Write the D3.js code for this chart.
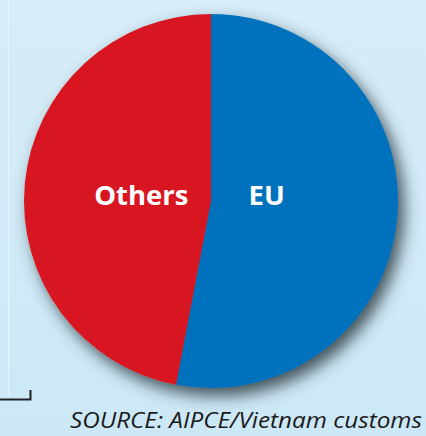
<!DOCTYPE html>
<html><head><meta charset="utf-8">
<script src="https://cdn.jsdelivr.net/npm/d3@7"></script>
<style>html,body{margin:0;padding:0;background:#d5ecf8;}svg{display:block;}</style>
</head><body>
<script>
const categories = ["EU", "Others"];
const values = [53, 47];
const colors = ["#0071bc", "#d71920"];
const sourceText = "SOURCE: AIPCE/Vietnam customs";

const W = 426, H = 436;
const svg = d3.select("body").append("svg").attr("width", W).attr("height", H);
const defs = svg.append("defs");
const bg = defs.append("linearGradient").attr("id","bg").attr("x1",0).attr("y1",0).attr("x2",0).attr("y2",1);
bg.append("stop").attr("offset","0%").attr("stop-color","#d7edf8");
bg.append("stop").attr("offset","100%").attr("stop-color","#cce8f6");
const f = defs.append("filter").attr("id","sh").attr("x","-20%").attr("y","-20%").attr("width","150%").attr("height","150%");
f.append("feDropShadow").attr("dx",6).attr("dy",8).attr("stdDeviation",8).attr("flood-color","#2a3840").attr("flood-opacity",0.85);

svg.append("rect").attr("width",W).attr("height",H).attr("fill","url(#bg)");
svg.append("line").attr("x1",8.5).attr("x2",8.5).attr("y1",0).attr("y2",395).attr("stroke","#e6f5fc").attr("stroke-width",1);

// corner bracket
svg.append("path").attr("d","M0,399.5 H30.5 V390").attr("fill","none").attr("stroke","#222").attr("stroke-width",2);

const cx = 211, cy = 201, r = 187;
const pie = d3.pie().sort(null).value(d => d)(values);
const arc = d3.arc().innerRadius(0).outerRadius(r);
const g = svg.append("g").attr("transform", `translate(${cx},${cy})`);
const slices = g.append("g").attr("filter","url(#sh)");
slices.selectAll("path").data(pie).join("path")
  .attr("d", arc).attr("fill", (d,i) => colors[i]);

const labelArc = d3.arc().innerRadius(63).outerRadius(63);
g.selectAll("text").data(pie).join("text")
  .attr("x", d => labelArc.centroid(d)[0] - 7)
  .attr("y", 4)
  .attr("text-anchor","middle")
  .attr("font-family","'Open Sans', sans-serif")
  .attr("font-weight","bold")
  .attr("font-size",27.5)
  .attr("fill","#fff")
  .text((d,i) => categories[i]);

svg.append("text").attr("x",422).attr("y",428).attr("text-anchor","end")
  .attr("font-family","'Open Sans', sans-serif").attr("font-style","italic")
  .attr("font-size",21).attr("fill","#1a1a1a")
  .attr("textLength",352).attr("lengthAdjust","spacingAndGlyphs")
  .text(sourceText);
</script>
</body></html>
